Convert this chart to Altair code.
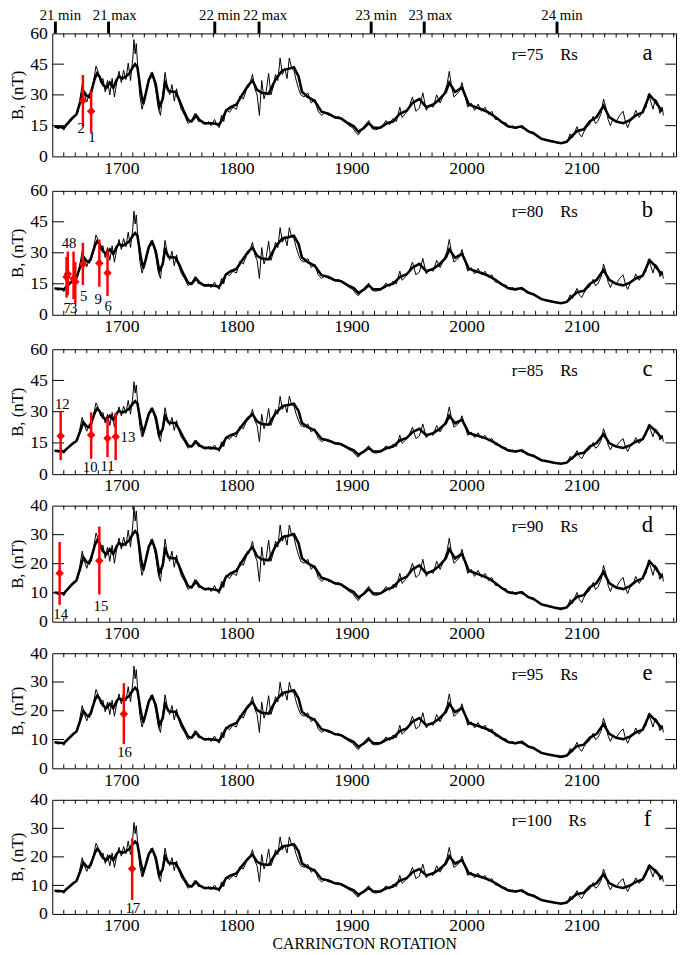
import altair as alt
import pandas as pd

# ---------------- data ----------------
radii = [75, 80, 85, 90, 95, 100]
panel_letters = ["a", "b", "c", "d", "e", "f"]
y_max = [60, 60, 60, 40, 40, 40]
y_step = [15, 15, 15, 10, 10, 10]

# smoothed (thick) curve at r = 75 Rs
thick_cr = [1642, 1646, 1650, 1654, 1658, 1661, 1664, 1667, 1670, 1672,
            1674, 1677, 1679, 1681, 1684, 1687, 1690, 1693, 1696, 1698,
            1701, 1704, 1707, 1710, 1712, 1714, 1717, 1719, 1721, 1724,
            1727, 1730, 1733, 1736, 1738, 1741, 1744, 1747, 1750, 1754,
            1758, 1761, 1765, 1768, 1772, 1777, 1781, 1785, 1788, 1791,
            1795, 1800, 1805, 1810, 1814, 1818, 1822, 1828, 1834, 1840,
            1845, 1850, 1854, 1857, 1862, 1868, 1874, 1880, 1885, 1891,
            1897, 1902, 1906, 1911, 1915, 1919, 1925, 1931, 1936, 1942,
            1948, 1953, 1959, 1965, 1971, 1976, 1982, 1985, 1990, 1996,
            2002, 2008, 2013, 2019, 2025, 2030, 2036, 2042, 2048, 2053,
            2059, 2065, 2070, 2076, 2082, 2087, 2092, 2096, 2102, 2107,
            2113, 2119, 2124, 2130, 2136, 2142, 2147, 2153, 2159, 2164,
            2170]
thick_b75 = [14.5, 14.3, 14, 16.5, 19, 20.5, 26, 32, 29.5, 29,
             32, 38, 40.5, 39, 35, 33.5, 36, 33.5, 37.5, 39,
             38, 39, 40.5, 43.5, 45, 43.5, 31.5, 25.5, 30, 37.5,
             40, 35, 24, 28, 36, 32, 31.5, 31.5, 28, 22.5,
             17.7, 17, 20, 17.7, 16.2, 16.2, 16, 15.4, 18.4, 22.3,
             24, 25.3, 30, 34.5, 37, 32.5, 31, 30.5, 37.5, 42,
             42.7, 43.5, 39, 31.5, 29, 27, 21.8, 20.8, 19.2, 18.5,
             16.2, 14.7, 12, 14, 16.2, 14, 14, 16.2, 17, 20.8,
             22.3, 26, 28, 24, 25.3, 27.6, 31.4, 36, 31.4, 33.6,
             25.3, 24, 23, 21.5, 19.2, 17, 14.7, 14, 14.7, 12.4,
             11, 8.6, 7.9, 7.1, 6.4, 7.1, 10.2, 12.4, 13.2, 17,
             19.2, 24.7, 19.2, 17, 16.2, 17.7, 20, 21.5, 30, 26.8,
             22]

# raw (thin) curve at r = 75 Rs
thin_cr = [1642, 1645, 1648, 1650, 1653, 1656, 1659, 1662, 1664, 1666,
           1668, 1670, 1672, 1674, 1676, 1678, 1680, 1682, 1684, 1686,
           1688, 1690, 1692, 1694, 1696, 1698, 1700, 1702, 1704, 1706,
           1708, 1710, 1711, 1712, 1713, 1714, 1716, 1718, 1720, 1722,
           1724, 1726, 1728, 1730, 1732, 1734, 1736, 1738, 1740, 1742,
           1744, 1746, 1748, 1750, 1752, 1755, 1758, 1761, 1764, 1767,
           1770, 1773, 1776, 1778, 1781, 1783, 1785, 1787, 1789, 1791,
           1794, 1797, 1800, 1803, 1806, 1809, 1811, 1814, 1816, 1818,
           1820, 1822, 1824, 1826, 1828, 1830, 1832, 1834, 1836, 1838,
           1840, 1842, 1844, 1846, 1848, 1850, 1852, 1854, 1856, 1859,
           1862, 1865, 1868, 1871, 1874, 1877, 1880, 1883, 1886, 1889,
           1892, 1895, 1898, 1901, 1904, 1906, 1909, 1912, 1915, 1918,
           1921, 1924, 1927, 1930, 1933, 1936, 1939, 1942, 1944, 1947,
           1950, 1953, 1956, 1959, 1962, 1965, 1968, 1971, 1974, 1977,
           1980, 1983, 1985, 1987, 1989, 1991, 1994, 1996, 1998, 2001,
           2004, 2007, 2010, 2013, 2016, 2019, 2022, 2025, 2028, 2031,
           2034, 2037, 2040, 2043, 2046, 2049, 2052, 2055, 2058, 2061,
           2064, 2067, 2070, 2073, 2076, 2079, 2082, 2085, 2088, 2090,
           2092, 2094, 2096, 2098, 2100, 2102, 2104, 2107, 2110, 2112,
           2114, 2117, 2119, 2121, 2123, 2125, 2127, 2130, 2133, 2136,
           2138, 2140, 2142, 2145, 2147, 2150, 2153, 2156, 2158, 2160,
           2162, 2164, 2166, 2168, 2170, 2171]
thin_b75 = [14.5, 13.5, 14.5, 12.8, 16, 18.5, 19.5, 21, 28, 35,
            30, 26.5, 30.5, 30, 37, 44, 41, 36, 38, 31.5,
            37, 30, 38, 29, 36, 41.5, 36, 42, 37.5, 45.5,
            37, 48, 57, 50, 55, 46, 30, 23, 27, 34,
            38, 41, 38, 32, 24, 20, 30, 41, 34, 30,
            35, 27, 33, 27, 23, 20, 16, 17.5, 21, 17,
            17.5, 15.5, 17, 15, 18, 15.5, 14, 20, 17, 23,
            21.5, 24, 23, 29.5, 28, 33, 34, 40, 33, 30,
            20, 37, 28, 32, 40.5, 30, 34, 40, 37, 48,
            40, 43, 38, 48, 43, 42, 37, 33, 30, 29,
            31, 26, 28, 22, 20, 21.5, 20, 20.5, 18.5, 19.5,
            17.5, 16.5, 15, 14, 11.5, 10.5, 13, 15.5, 17.5, 13.5,
            13, 13.5, 15, 17.5, 15.5, 18.5, 17, 24, 19, 21,
            24, 29, 22, 23.5, 31, 22.5, 25, 24, 30, 26,
            30, 35, 41.5, 34, 29, 30, 32, 36, 31, 24,
            26, 22.5, 25.5, 22, 24, 20.5, 22, 18, 18, 16,
            16.5, 14, 15, 13.5, 14.5, 13.5, 13.5, 11.5, 12, 10,
            9, 8.5, 7.8, 7.2, 7, 6.5, 6.7, 6.5, 8, 11,
            9, 12, 14.5, 11, 9.5, 12, 14, 15.5, 19.5, 16,
            17, 21, 28, 24, 18, 15, 18, 17, 20, 22,
            17, 14, 17, 19, 22.5, 19, 22, 24, 30.5, 27,
            23, 28, 26.5, 21, 24, 20]

# events (red points with error bars)
ev_id = [1, 2, 3, 4, 5, 6, 7, 8, 9, 10, 11, 12, 13, 14, 15, 16, 17]
ev_panel = ["a", "a", "b", "b", "b", "b", "b", "b", "b",
            "c", "c", "c", "c", "d", "d", "e", "f"]
ev_cr = [1673.8, 1666.6, 1660.0, 1653.5, 1666.6, 1688.0, 1652.4, 1658.5, 1680.9,
         1673.8, 1688.0, 1647.3, 1695.1, 1646.4, 1680.9, 1702.2, 1709.4]
ev_b = [22.0, 27.3, 16.0, 19.7, 24.5, 20.2, 18.3, 17.5, 25.0,
        18.8, 17.3, 18.3, 18.0, 16.7, 21.0, 18.9, 15.8]
ev_lo = [11.6, 14.7, 5.3, 9.5, 14.4, 9.1, 8.3, 7.5, 13.6,
         7.4, 8.2, 6.7, 6.7, 5.8, 9.4, 8.4, 4.9]
ev_hi = [32.0, 39.7, 25.5, 30.6, 34.8, 31.5, 28.0, 30.6, 36.4,
         29.7, 27.0, 30.0, 29.4, 27.5, 32.8, 29.6, 26.5]
ev_lab_cr = [1674.5, 1665.2, 1658.6, 1651.5, 1667.2, 1688.6, 1653.0, 1657.8, 1680.0,
             1672.9, 1688.0, 1648.7, 1705.7, 1647.3, 1682.3, 1702.8, 1710.0]
ev_lab_b = [9.4, 14.0, 3.3, 34.8, 9.1, 4.2, 3.3, 34.8, 7.6,
            3.3, 3.9, 33.5, 18.0, 2.6, 5.4, 5.5, 2.0]

# solar-cycle markers on the top axis
cycle_cr = [1642.7, 1688.9, 1781.2, 1819.7, 1917.1, 1963.2, 2078.6]
cycle_lab = ["21 min", "21 max", "22 min", "22 max", "23 min", "23 max", "24 min"]

x_labels = [1700, 1800, 1900, 2000, 2100]

# ---------------- chart ----------------
FONT = "Liberation Serif"
W = 634
HEIGHTS = [125, 126, 127, 118, 117, 116]
X_DOM = [1640, 2182]
RED = "#ff0000"

minor_x = list(range(1650, 2181, 10))


def make_panel(i):
    r = radii[i]
    fac = (75.0 / r) ** 2
    letter = panel_letters[i]
    ymax = y_max[i]
    H = HEIGHTS[i]
    xs = alt.Scale(domain=X_DOM, nice=False, zero=False)
    ys = alt.Scale(domain=[0, ymax], nice=False, zero=False)
    yvals = list(range(0, ymax + 1, y_step[i]))

    df_thick = pd.DataFrame({"cr": thick_cr, "b": [v * fac for v in thick_b75]})
    df_thin = pd.DataFrame({"cr": thin_cr, "b": [v * fac for v in thin_b75]})

    last = (i == len(radii) - 1)
    xaxis = alt.Axis(values=x_labels, format="d", ticks=False, domain=False, grid=False,
                     labelFont=FONT, labelFontSize=18, labelColor="black", labelPadding=3,
                     title="CARRINGTON ROTATION" if last else None,
                     titleFont=FONT, titleFontSize=16, titleFontWeight="normal",
                     titleColor="black", titlePadding=1)
    yaxis = alt.Axis(values=yvals, ticks=False, domain=False, grid=False,
                     labelFont=FONT, labelFontSize=18, labelColor="black", labelPadding=5,
                     title="B,  (nT)", titleFont=FONT, titleFontSize=17,
                     titleFontWeight="normal", titleColor="black", titlePadding=3)

    def X(f):
        return alt.X(f, scale=xs, axis=xaxis)

    def Y(f):
        return alt.Y(f, scale=ys, axis=yaxis)

    thin = alt.Chart(df_thin).mark_line(color="black", strokeWidth=1).encode(
        x=X("cr:Q"), y=Y("b:Q"))
    thick = alt.Chart(df_thick).mark_line(color="black", strokeWidth=2.6).encode(
        x=X("cr:Q"), y=Y("b:Q"))

    df_yt = pd.DataFrame({"v": yvals[1:-1]})
    ytl = alt.Chart(df_yt).mark_rule(color="black", strokeWidth=1).encode(
        y=Y("v:Q"), x=alt.value(0), x2=alt.value(12))
    ytr = alt.Chart(df_yt).mark_rule(color="black", strokeWidth=1).encode(
        y=Y("v:Q"), x=alt.value(W), x2=alt.value(W - 11))

    df_xt = pd.DataFrame({"c": minor_x})
    xtb = alt.Chart(df_xt).mark_rule(color="black", strokeWidth=1).encode(
        x=X("c:Q"), y=alt.value(H), y2=alt.value(H - 4))
    xtt = alt.Chart(df_xt).mark_rule(color="black", strokeWidth=1).encode(
        x=X("c:Q"), y=alt.value(0), y2=alt.value(4))

    idx = [k for k in range(len(ev_id)) if ev_panel[k] == letter]
    df_ev = pd.DataFrame({
        "cr": [ev_cr[k] for k in idx], "b": [ev_b[k] for k in idx],
        "lo": [ev_lo[k] for k in idx], "hi": [ev_hi[k] for k in idx],
        "lcr": [ev_lab_cr[k] for k in idx], "lb": [ev_lab_b[k] for k in idx],
        "id": [str(ev_id[k]) for k in idx],
    })
    bars = alt.Chart(df_ev).mark_rule(color=RED, strokeWidth=2.5).encode(
        x=X("cr:Q"), y=Y("lo:Q"), y2="hi:Q")
    pts = alt.Chart(df_ev).mark_point(shape="diamond", filled=True, color=RED,
                                      size=75, opacity=1).encode(
        x=X("cr:Q"), y=Y("b:Q"))
    labs = alt.Chart(df_ev).mark_text(font=FONT, fontSize=15, color="black").encode(
        x=X("lcr:Q"), y=Y("lb:Q"), text="id:N")

    df_t = pd.DataFrame({"t": ["r=%d\u00a0\u00a0\u00a0\u00a0Rs" % r], "l": [letter]})
    rtxt = alt.Chart(df_t).mark_text(font=FONT, fontSize=17, color="black",
                                     align="left", baseline="middle").encode(
        x=alt.value(467), y=alt.value(22), text="t:N")
    ltxt = alt.Chart(df_t).mark_text(font=FONT, fontSize=23, color="black",
                                     align="center", baseline="middle").encode(
        x=alt.value(605), y=alt.value(20), text="l:N")

    layers = [thin, thick, ytl, ytr, xtb, xtt, bars, pts, labs, rtxt, ltxt]

    if i == 0:
        df_c = pd.DataFrame({"cr": cycle_cr, "lab": cycle_lab})
        ctick = alt.Chart(df_c).mark_rule(color="black", strokeWidth=3).encode(
            x=X("cr:Q"), y=alt.value(-12), y2=alt.value(0))
        ctext = alt.Chart(df_c).mark_text(font=FONT, fontSize=15, color="black",
                                          align="left", baseline="alphabetic", dx=-16).encode(
            x=X("cr:Q"), y=alt.value(-14), text="lab:N")
        layers += [ctick, ctext]

    return alt.layer(*layers).properties(width=W, height=H)


panels = [make_panel(i) for i in range(len(radii))]
top = alt.vconcat(*panels[:3], spacing=3)
bottom = alt.vconcat(*panels[3:], spacing=0)
chart = alt.vconcat(top, bottom, spacing=0).properties(
    padding={"left": 0, "top": -9, "right": 0, "bottom": 0},
    background="white",
).configure_view(stroke="black", strokeWidth=1)

chart.save("out.html", embed_options={"renderer": "svg", "actions": False})
